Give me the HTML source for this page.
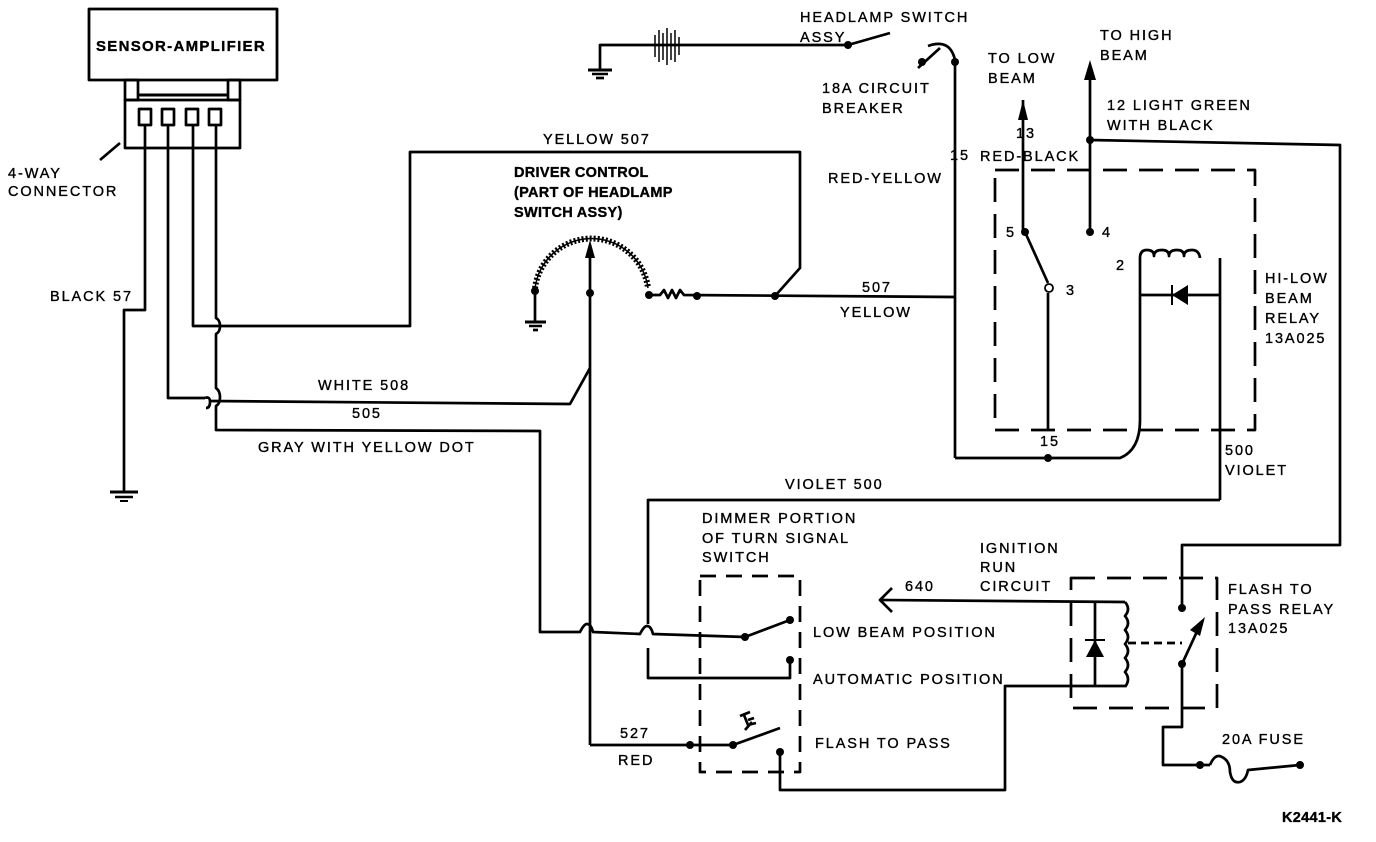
<!DOCTYPE html>
<html><head><meta charset="utf-8"><style>
html,body{margin:0;padding:0;background:#fff}
svg{display:block}
text{font-family:"Liberation Sans",sans-serif;font-size:14.5px;fill:#000;letter-spacing:1.9px;stroke:#000;stroke-width:0.35}
.b{font-weight:bold;letter-spacing:0.3px}
</style></head><body>
<svg width="1376" height="842" viewBox="0 0 1376 842" xmlns="http://www.w3.org/2000/svg">
<g fill="none" stroke="#000" stroke-width="2.7" stroke-linejoin="round">
<rect x="89" y="9" width="188" height="71" stroke-width="2.8"/>
<rect x="125" y="80" width="13" height="20"/>
<rect x="228" y="80" width="12" height="20"/>
<line x1="138" y1="95" x2="228" y2="95" stroke-width="3"/>
<rect x="125" y="100" width="115" height="48"/>
<rect x="139" y="109" width="12" height="16"/>
<rect x="162" y="109" width="12" height="16"/>
<rect x="186" y="109" width="12" height="16"/>
<rect x="209" y="109" width="12" height="16"/>
<line x1="100" y1="160" x2="120" y2="143"/>
<polyline points="145,125 145,310 124,310 124,492"/>
<line x1="110" y1="492" x2="138" y2="492" stroke-width="3"/>
<line x1="115" y1="497" x2="133" y2="497" stroke-width="2.5"/>
<line x1="120" y1="501" x2="128" y2="501" stroke-width="2"/>
<polyline points="168,125 168,398 205,398"/>
<path d="M205,398 q5,-2 5,4 q0,6 -4,6"/>
<polyline points="210,401 570,404 590,368"/>
<polyline points="193,125 193,326 410,326 410,152 800,152 800,268 775,296"/>
<path d="M216,125 L216,318 q4,2 4,8 q0,6 -4,8 L216,388 q4,3 4,9 q0,7 -4,9 L216,430 L540,431 L540,632 L580,632 q4,-8 7,-8 q4,0 6,8 L640,634 q4,-8 7,-8 q4,0 6,8 L745,637"/>
<path d="M535,288 A57,57 0 0 1 648,288" stroke-width="6" stroke-dasharray="2 2"/>
<path d="M535,288 A57,57 0 0 1 648,288" stroke-width="1.5"/>
<line x1="535" y1="291" x2="535" y2="322"/>
<line x1="525" y1="322" x2="546" y2="322" stroke-width="3"/>
<line x1="529" y1="326" x2="542" y2="326" stroke-width="2.5"/>
<line x1="533" y1="330" x2="538" y2="330"/>
<line x1="590" y1="245" x2="590" y2="745"/>
<polyline points="590,745 733,745 780,728"/>
<path d="M649,295 L660,295 l4,-5 l4,8 l4,-8 l4,8 l4,-8 l4,5 L955,297"/>
<polyline points="600,70 600,45 848,45 890,33"/>
<line x1="588" y1="70" x2="612" y2="70" stroke-width="3"/>
<line x1="592" y1="74" x2="608" y2="74" stroke-width="2.5"/>
<line x1="596" y1="78" x2="604" y2="78"/>
<g stroke-width="1.5"><line x1="655" y1="35" x2="655" y2="57"/><line x1="659" y1="30" x2="659" y2="62"/><line x1="663" y1="33" x2="663" y2="60"/><line x1="667" y1="28" x2="667" y2="65"/><line x1="671" y1="33" x2="671" y2="60"/><line x1="675" y1="30" x2="675" y2="62"/><line x1="679" y1="37" x2="679" y2="55"/></g>
<line x1="918" y1="68" x2="940" y2="48"/>
<path d="M928,46 Q950,38 955,60"/>
<line x1="955" y1="62" x2="955" y2="458"/>
<path d="M955,458 L1120,458 Q1140,450 1140,420 L1140,258"/>
<rect x="995" y="170" width="260" height="260" stroke-dasharray="24 12"/>
<line x1="1023" y1="100" x2="1023" y2="232"/>
<polyline points="1025,232 1048,283"/>
<line x1="1048" y1="293" x2="1048" y2="430"/>
<line x1="1090" y1="72" x2="1090" y2="232"/>
<polyline points="1090,140 1340,145 1340,545 1182,545 1182,608"/>
<path d="M1140,258 q0,-8 7,-8 q7,0 7,6 q0,-6 8,-6 q7,0 7,6 q0,-6 8,-6 q7,0 7,6 q0,-6 8,-6 q7,0 8,8"/>
<line x1="1140" y1="295" x2="1220" y2="295"/>
<line x1="1220" y1="258" x2="1220" y2="500"/>
<polyline points="1220,500 648,500 648,624"/>
<polyline points="648,648 648,678 790,678 790,660"/>
<rect x="700" y="576" width="100" height="196" stroke-dasharray="16 10"/>
<line x1="745" y1="637" x2="790" y2="620"/>
<polyline points="780,752 780,790 1005,790 1005,686 1125,686"/>
<line x1="745" y1="730" x2="752" y2="722"/>
<path d="M740,716 l10,-4 M744,715 l4,10 l8,-2 M748,720 l6,-2"/>
<polyline points="880,600 1125,602"/>
<polyline points="892,588 880,600 892,612"/>
<rect x="1071" y="578" width="146" height="130" stroke-dasharray="24 12"/>
<line x1="1095" y1="602" x2="1095" y2="687"/>
<path d="M1125,602 q6,7 0,14 q6,7 0,14 q6,7 0,14 q6,7 0,14 q6,7 0,14 q6,7 0,15"/>
<line x1="1128" y1="643" x2="1182" y2="643" stroke-dasharray="8 5"/>
<line x1="1182" y1="664" x2="1200" y2="625"/>
<polyline points="1182,664 1182,727 1163,727 1163,765 1210,765"/>
<path d="M1210,765 q5,-12 12,-8 q8,4 8,15 q2,12 10,10 q6,-2 8,-12 L1300,765"/>
</g>
<g fill="#000">
<polygon points="1018,120 1023,100 1028,120"/>
<polygon points="1084,80 1090,60 1096,80"/>
<polygon points="585,258 590,240 595,258"/>
<polygon points="1205,617 1190,630 1200,636"/>
<polygon points="1188,285 1188,305 1172,295"/>
<polygon points="1086,657 1104,657 1095,640"/>
<line x1="1085" y1="640" x2="1105" y2="640" stroke="#000" stroke-width="2"/>
<line x1="1172" y1="285" x2="1172" y2="305" stroke="#000" stroke-width="2"/>
<circle cx="848" cy="45" r="4"/><circle cx="922" cy="62" r="4"/><circle cx="955" cy="62" r="4"/>
<circle cx="535" cy="291" r="4"/><circle cx="590" cy="293" r="4"/><circle cx="649" cy="295" r="4"/>
<circle cx="697" cy="296" r="4"/><circle cx="775" cy="296" r="4"/>
<circle cx="1025" cy="232" r="4"/><circle cx="1090" cy="232" r="4"/><circle cx="1090" cy="140" r="4"/>
<circle cx="1048" cy="458" r="4"/>
<circle cx="745" cy="637" r="4"/><circle cx="790" cy="620" r="4"/><circle cx="790" cy="660" r="4"/>
<circle cx="690" cy="745" r="4"/><circle cx="733" cy="745" r="4"/><circle cx="780" cy="752" r="4"/>
<circle cx="1182" cy="608" r="4"/><circle cx="1182" cy="664" r="4"/>
<circle cx="1200" cy="765" r="4"/><circle cx="1300" cy="765" r="4"/>
</g>
<circle cx="1049" cy="288" r="4" fill="#fff" stroke="#000" stroke-width="1.8"/>
<text x="96" y="51" class="b" style="font-size:15px;letter-spacing:1.3px">SENSOR-AMPLIFIER</text>
<text x="8" y="178">4-WAY</text>
<text x="8" y="196">CONNECTOR</text>
<text x="50" y="301">BLACK 57</text>
<text x="543" y="144">YELLOW 507</text>
<text x="514" y="177" class="b">DRIVER CONTROL</text>
<text x="514" y="197" class="b">(PART OF HEADLAMP</text>
<text x="514" y="217" class="b">SWITCH ASSY)</text>
<text x="800" y="22">HEADLAMP SWITCH</text><text x="800" y="42">ASSY</text>
<text x="822" y="93">18A CIRCUIT</text><text x="822" y="113">BREAKER</text>
<text x="988" y="63">TO LOW</text><text x="988" y="83">BEAM</text>
<text x="1100" y="40">TO HIGH</text><text x="1100" y="60">BEAM</text>
<text x="1016" y="138">13</text><text x="980" y="161">RED-BLACK</text>
<text x="1107" y="110">12 LIGHT GREEN</text><text x="1107" y="130">WITH BLACK</text>
<text x="950" y="160">15</text><text x="828" y="183">RED-YELLOW</text>
<text x="1006" y="237">5</text><text x="1102" y="237">4</text><text x="1116" y="270">2</text><text x="1066" y="295">3</text>
<text x="1265" y="283">HI-LOW</text><text x="1265" y="303">BEAM</text><text x="1265" y="323">RELAY</text><text x="1265" y="343">13A025</text>
<text x="862" y="292">507</text><text x="840" y="317">YELLOW</text>
<text x="1040" y="446">15</text>
<text x="1225" y="455">500</text><text x="1225" y="475">VIOLET</text>
<text x="318" y="390">WHITE 508</text><text x="352" y="418">505</text>
<text x="258" y="452">GRAY WITH YELLOW DOT</text>
<text x="785" y="489">VIOLET 500</text>
<text x="702" y="523">DIMMER PORTION</text><text x="702" y="543">OF TURN SIGNAL</text><text x="702" y="562">SWITCH</text>
<text x="980" y="553">IGNITION</text><text x="980" y="572">RUN</text><text x="980" y="591">CIRCUIT</text>
<text x="905" y="591">640</text>
<text x="1228" y="594">FLASH TO</text><text x="1228" y="614">PASS RELAY</text><text x="1228" y="633">13A025</text>
<text x="813" y="637">LOW BEAM POSITION</text>
<text x="813" y="684">AUTOMATIC POSITION</text>
<text x="815" y="748">FLASH TO PASS</text>
<text x="620" y="738">527</text><text x="618" y="765">RED</text>
<text x="1222" y="744">20A FUSE</text>
<text x="1282" y="822" class="b">K2441-K</text>
</svg>
</body></html>
